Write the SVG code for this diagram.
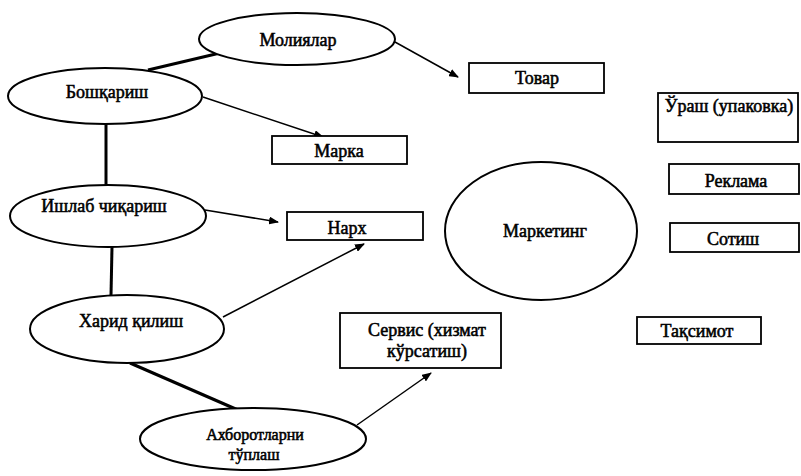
<svg xmlns="http://www.w3.org/2000/svg" width="801" height="476" viewBox="0 0 801 476">
  <style>
    .node ellipse, .node rect { fill: #fff; stroke: #000; }
    .node ellipse { stroke-width: 2; }
    .node rect { stroke-width: 1.8; }
    text { font-family: "Liberation Serif", "Times New Roman", "DejaVu Serif", serif; font-size: 18px; font-weight: normal; fill: #000; stroke: #000; stroke-width: 0.55; text-anchor: middle; }
    text.small { font-size: 16px; }
    .link { stroke: #000; fill: none; }
    .thick { stroke-width: 3; }
    .thin { stroke-width: 1.5; }
  </style>
  <defs>
    <marker id="arrow" markerUnits="userSpaceOnUse" markerWidth="10" markerHeight="8" refX="9" refY="4" orient="auto">
      <path d="M0,0 L10,4 L0,8 z" fill="#000"/>
    </marker>
  </defs>

  <!-- connectors -->
  <g id="connectors">
    <line class="link thick" x1="220" y1="53" x2="148" y2="70"/>
    <line class="link thick" x1="106" y1="124" x2="106" y2="185"/>
    <line class="link thick" x1="112" y1="247" x2="111" y2="295"/>
    <line class="link thick" x1="130" y1="363" x2="238" y2="410"/>
    <line class="link thin" x1="395" y1="42" x2="458" y2="77" marker-end="url(#arrow)"/>
    <line class="link thin" x1="203" y1="97" x2="323" y2="137" marker-end="url(#arrow)"/>
    <line class="link thin" x1="205" y1="210" x2="278" y2="222" marker-end="url(#arrow)"/>
    <line class="link thin" x1="223" y1="317" x2="364" y2="244" marker-end="url(#arrow)"/>
    <line class="link thin" x1="357" y1="425" x2="431" y2="373" marker-end="url(#arrow)"/>
  </g>

  <!-- oval nodes -->
  <g id="moliyalar" class="node">
    <ellipse cx="297" cy="39" rx="98" ry="26"/>
    <text x="298" y="46">Молиялар</text>
  </g>
  <g id="boshqarish" class="node">
    <ellipse cx="105" cy="96" rx="97" ry="28"/>
    <text x="107" y="98">Бошқариш</text>
  </g>
  <g id="ishlab-chiqarish" class="node">
    <ellipse cx="108" cy="216" rx="98" ry="31"/>
    <text x="104" y="212">Ишлаб чиқариш</text>
  </g>
  <g id="xarid-qilish" class="node">
    <ellipse cx="127" cy="329" rx="97" ry="34"/>
    <text x="131" y="327">Харид қилиш</text>
  </g>
  <g id="axborot" class="node">
    <ellipse cx="253" cy="439" rx="113" ry="31"/>
    <text class="small" x="255" y="440">Ахборотларни</text>
    <text class="small" x="254" y="460">тўплаш</text>
  </g>
  <g id="marketing" class="node">
    <ellipse cx="541" cy="231" rx="96" ry="69"/>
    <text x="545" y="237">Маркетинг</text>
  </g>

  <!-- box nodes -->
  <g id="tovar" class="node">
    <rect x="469" y="63" width="135" height="30"/>
    <text x="537" y="84">Товар</text>
  </g>
  <g id="urash" class="node">
    <rect x="658" y="93" width="140" height="49"/>
    <text x="729" y="112">Ўраш (упаковка)</text>
  </g>
  <g id="reklama" class="node">
    <rect x="669" y="164" width="130" height="30"/>
    <text x="736" y="187">Реклама</text>
  </g>
  <g id="marka" class="node">
    <rect x="272" y="136" width="135" height="28"/>
    <text x="339" y="157">Марка</text>
  </g>
  <g id="narx" class="node">
    <rect x="287" y="212" width="136" height="28"/>
    <text x="347" y="234">Нарх</text>
  </g>
  <g id="sotish" class="node">
    <rect x="670" y="223" width="129" height="29"/>
    <text x="733" y="245">Сотиш</text>
  </g>
  <g id="servis" class="node">
    <rect x="340" y="313" width="161" height="55"/>
    <text x="427" y="336">Сервис (хизмат</text>
    <text x="427" y="357">кўрсатиш)</text>
  </g>
  <g id="taqsimot" class="node">
    <rect x="637" y="317" width="124" height="27"/>
    <text x="697" y="337">Тақсимот</text>
  </g>
</svg>
